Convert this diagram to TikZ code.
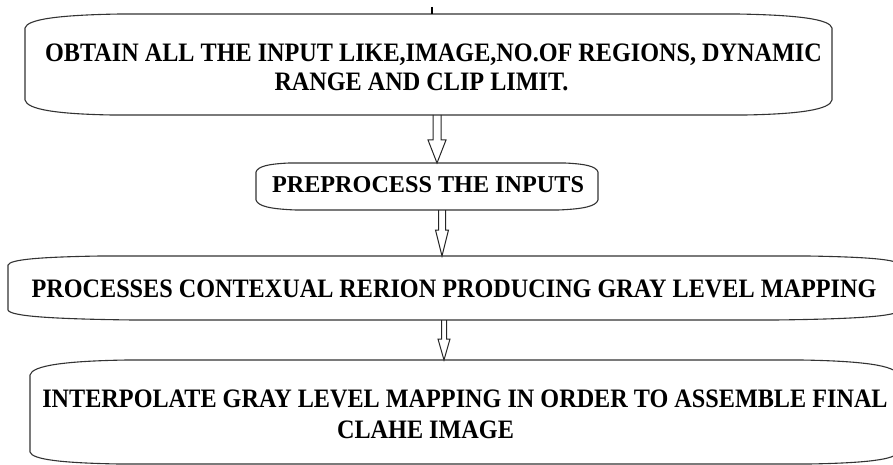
\documentclass[tikz,border=0pt]{standalone}
\usepackage{fontspec}
\setmainfont{Liberation Serif}
\usetikzlibrary{calc}
\tikzset{
  boxarea/.style={draw=none,inner sep=0pt,outer sep=0pt},
  boxline/.style={draw=black!80,line width=1.1pt,line join=round},
  arrowline/.style={draw=black!85,line width=1pt,line join=miter},
  label/.style={inner sep=0pt,anchor=base,font=\fontsize{24.2}{29}\selectfont\bfseries},
  tickline/.style={draw=black,line width=1.8pt}
}
\newcommand\tall[1]{\scalebox{1}[1.1]{#1}}
\newcommand\flowshape[5]{%
\draw[boxline] let \p1=(#1.north west), \p2=(#1.south east) in
 (\x1+#2pt,\y1) -- (\x2-#2pt,\y1)
 .. controls (\x2-0.37*#2pt,\y1-1pt) and (\x2-2pt,\y1-0.36*#4pt) .. (\x2,\y1-#4pt)
 -- (\x2,\y2+#5pt)
 .. controls (\x2-2pt,\y2+0.36*#5pt) and (\x2-0.37*#3pt,\y2+1pt) .. (\x2-#3pt,\y2)
 -- (\x1+#3pt,\y2)
 .. controls (\x1+0.37*#3pt,\y2+1pt) and (\x1+2pt,\y2+0.36*#5pt) .. (\x1,\y2+#5pt)
 -- (\x1,\y1-#4pt)
 .. controls (\x1+2pt,\y1-0.36*#4pt) and (\x1+0.37*#2pt,\y1-1pt) .. (\x1+#2pt,\y1) -- cycle;}
\newcommand\hollowarrow[5]{%
\draw[arrowline] let \p1=(#1), \p2=(#2) in
 (\x1-#3pt,\y1) -- (\x1-#3pt,\y2+#5pt) -- (\x1-#4pt,\y2+#5pt) -- (\x1,\y2)
 -- (\x1+#4pt,\y2+#5pt) -- (\x1+#3pt,\y2+#5pt) -- (\x1+#3pt,\y1);}
\begin{document}
\begin{tikzpicture}[x=1pt,y=-1pt]
\useasboundingbox (0,0) rectangle (893,465);
\clip (0,0) rectangle (893,465);
% box areas
\node[boxarea,minimum width=807pt,minimum height=101pt] (b1) at (428.5,64.5) {};
\node[boxarea,minimum width=342pt,minimum height=47pt] (b2) at (427,186.5) {};
\node[boxarea,minimum width=892pt,minimum height=64pt] (b3) at (454,288) {};
\node[boxarea,minimum width=868pt,minimum height=104pt] (b4) at (464,412) {};
% shapes
\flowshape{b1}{95}{87}{14}{15}
\flowshape{b2}{33}{40}{9}{10}
\flowshape{b3}{92}{125}{9}{10}
\flowshape{b4}{97}{89}{15}{12}
% texts
\node[label] (t1a) at (433.5,62) {\tall{OBTAIN ALL THE INPUT LIKE,IMAGE,NO.OF REGIONS, DYNAMIC}};
\node[label] (t1b) at (421.5,91) {\tall{RANGE AND CLIP LIMIT.}};
\node[label] (t2) at (428,192) {PREPROCESS THE INPUTS};
\node[label] (t3) at (454,297) {\tall{PROCESSES CONTEXUAL RERION PRODUCING GRAY LEVEL MAPPING}};
\node[label] (t4a) at (465,407) {\tall{INTERPOLATE GRAY LEVEL MAPPING IN ORDER TO ASSEMBLE FINAL}};
\node[label] (t4b) at (425.5,438) {\tall{CLAHE IMAGE}};
% incoming stub
\coordinate (in) at (432,7);
\draw[tickline] (in) -- (in |- b1.north);
% arrows
\coordinate (ax1) at (437,0);
\coordinate (ax2) at (442,0);
\coordinate (ax3) at (444,0);
\hollowarrow{b1.south -| ax1}{b2.north -| ax1}{4}{9}{23}
\hollowarrow{b2.south -| ax2}{b3.north -| ax2}{3.5}{6.5}{26}
\hollowarrow{b3.south -| ax3}{b4.north -| ax3}{2.5}{6}{21}
\end{tikzpicture}
\end{document}
